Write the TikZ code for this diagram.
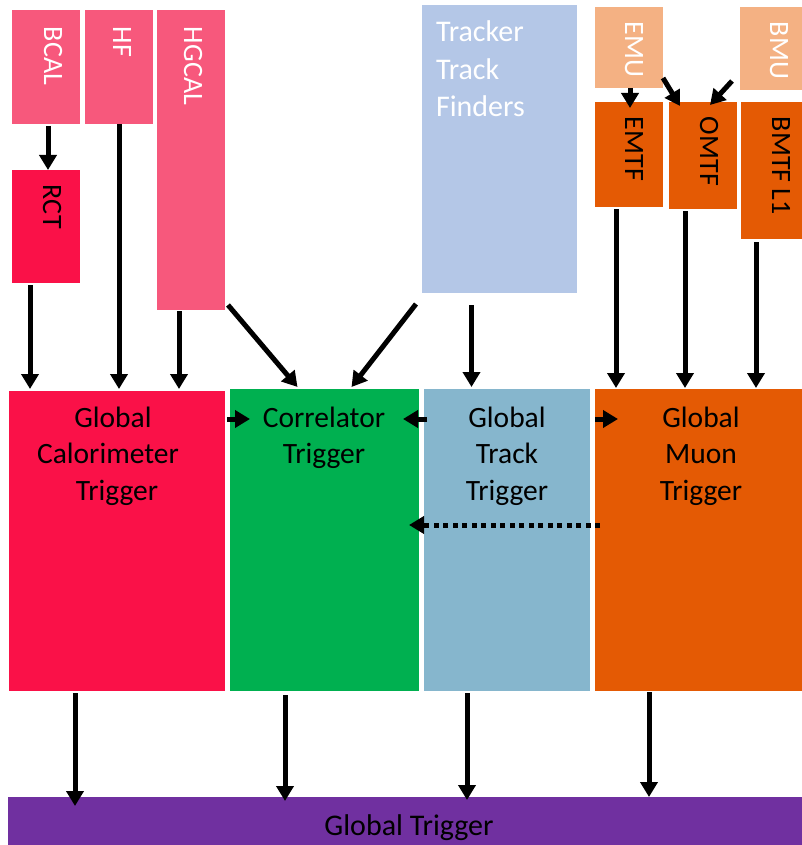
\documentclass[tikz,border=0pt]{standalone}
\usepackage{fontspec}
\setmainfont{Carlito}
\usetikzlibrary{arrows.meta}
\definecolor{calpink}{RGB}{247,88,124}
\definecolor{calred}{RGB}{250,17,72}
\definecolor{trkblue}{RGB}{180,199,231}
\definecolor{muonlight}{RGB}{244,177,131}
\definecolor{muondark}{RGB}{228,90,4}
\definecolor{corrgreen}{RGB}{0,176,80}
\definecolor{gttblue}{RGB}{134,182,205}
\definecolor{gtpurple}{RGB}{112,48,160}
\begin{document}
\begin{tikzpicture}[x=1pt,y=-1pt,
  box/.style={anchor=north west, inner sep=0pt, outer sep=0pt, draw=none},
  lbl/.style={font=\fontsize{29.5}{36.5}\selectfont, inner sep=0pt, outer sep=0pt},
  vlbl/.style={font=\fontsize{28}{34}\selectfont, inner sep=0pt, outer sep=0pt, rotate=-90, anchor=base west},
  arr/.style={line width=5pt, -{Triangle[length=15pt,width=17pt]}},
  dasharr/.style={line width=5pt, dash pattern=on 5pt off 4.5pt, -{Triangle[length=15pt,width=17pt]}},
]
\useasboundingbox (0,0) rectangle (802,845);

% calorimeter inputs
\node[box, fill=calpink, minimum width=68pt, minimum height=114pt] (bcal) at (12,10) {};
\node[box, fill=calpink, minimum width=68pt, minimum height=114pt] (hf) at (85,10) {};
\node[box, fill=calpink, minimum width=68pt, minimum height=300pt] (hgcal) at (157,10) {};
\node[box, fill=calred, minimum width=68pt, minimum height=113pt] (rct) at (12,170) {};
% tracker
\node[box, fill=trkblue, minimum width=155pt, minimum height=288pt] (ttf) at (422,5) {};
% muon inputs
\node[box, fill=muonlight, minimum width=68pt, minimum height=81pt] (emu) at (595,7) {};
\node[box, fill=muonlight, minimum width=62pt, minimum height=83pt] (bmu) at (740,7) {};
\node[box, fill=muondark, minimum width=68pt, minimum height=105pt] (emtf) at (595,102) {};
\node[box, fill=muondark, minimum width=68pt, minimum height=107pt] (omtf) at (669,102) {};
\node[box, fill=muondark, minimum width=61pt, minimum height=137pt] (bmtf) at (741,102) {};
% global trigger stage
\node[box, fill=calred, minimum width=216pt, minimum height=300pt] (gct) at (9,391) {};
\node[box, fill=corrgreen, minimum width=189pt, minimum height=302pt] (corr) at (230,389) {};
\node[box, fill=gttblue, minimum width=166pt, minimum height=302pt] (gtt) at (424,389) {};
\node[box, fill=muondark, minimum width=207pt, minimum height=302pt] (gmt) at (595,389) {};
\node[box, fill=gtpurple, minimum width=794pt, minimum height=48pt] (gt) at (8,797) {};

% vertical labels
\node[vlbl, text=white] (bcall) at (44,27) {BCAL};
\node[vlbl, text=white] (hfl) at (113,27) {HF};
\node[vlbl, text=white] (hgcall) at (184,27) {HGCAL};
\node[vlbl] (rctl) at (43,185) {RCT};
\node[vlbl, text=white] (emul) at (625,22) {EMU};
\node[vlbl, text=white] (bmul) at (770,22) {BMU};
\node[vlbl] (emtfl) at (625,117) {EMTF};
\node[vlbl] (omtfl) at (700,117) {OMTF};
\node[vlbl] (bmtfl) at (772,117) {BMTF L1};

% horizontal labels
\node[lbl, font=\fontsize{30}{37.5}\selectfont, text=white, anchor=north west, align=left] (ttfl) at (436,21) {Tracker\\Track\\Finders};
\node[lbl, anchor=north, align=center] (gctl) at (108,407)
  {\hspace*{10pt}Global\\Calorimeter\hspace*{16pt}\\\hspace*{18pt}Trigger};
\node[lbl, anchor=north, align=center] (corrl) at (324,407) {Correlator\\Trigger};
\node[lbl, anchor=north, align=center] (gttl) at (507,407) {Global\\Track\\Trigger};
\node[lbl, anchor=north, align=center] (gmtl) at (701,407) {Global\\Muon\\Trigger};
\node[lbl, font=\fontsize{30}{36}\selectfont, anchor=base] (gtl) at (409,835) {Global Trigger};

% calorimeter connections
\draw[arr, shorten <=2pt] ([xshift=2pt]bcal.south) -- ([xshift=2pt]rct.north);
\draw[arr, shorten <=2pt, shorten >=2pt] ([xshift=-16pt]rct.south) -- ([xshift=-16pt]rct.south |- gct.north);
\draw[arr, shorten >=2pt] (hf.south) -- (hf.south |- gct.north);
\draw[arr, shorten <=1pt, shorten >=2pt] ([xshift=-12pt]hgcal.south) -- ([xshift=-12pt]hgcal.south |- gct.north);
\draw[arr] ([xshift=3pt,yshift=5pt]hgcal.south east) -- ([xshift=-27pt,yshift=2pt]corr.north);

% tracker connections
\draw[arr] ([xshift=-6pt,yshift=-11pt]ttf.south west) -- ([xshift=27pt,yshift=2pt]corr.north);
\draw[arr, shorten <=12pt, shorten >=2pt] ([xshift=-28pt]ttf.south) -- ([xshift=-28pt]ttf.south |- gtt.north);

% muon connections
\draw[arr, shorten >=-6pt] ([xshift=1pt]emu.south) -- ([xshift=1pt]emtf.north);
\draw[arr] ([yshift=10pt]emu.south east) -- ([xshift=11pt,yshift=-4pt]omtf.north west);
\draw[arr] ([xshift=-8pt,yshift=9pt]bmu.south west) -- ([xshift=-27pt,yshift=-3pt]omtf.north east);
\draw[arr, shorten <=2pt, shorten >=1pt] ([xshift=-13pt]emtf.south) -- ([xshift=-13pt]emtf.south |- gmt.north);
\draw[arr, shorten <=2pt, shorten >=1pt] ([xshift=-18pt]omtf.south) -- ([xshift=-18pt]omtf.south |- gmt.north);
\draw[arr, shorten <=3pt, shorten >=1pt] ([xshift=-15.5pt]bmtf.south) -- ([xshift=-15.5pt]bmtf.south |- gmt.north);

% links between trigger blocks
\draw[arr] ([xshift=2pt,yshift=-28pt]gct.north east) -- ([xshift=20pt,yshift=-30pt]corr.north west);
\draw[arr] ([xshift=3pt,yshift=-30pt]gtt.north west) -- ([xshift=-16pt,yshift=-30pt]corr.north east);
\draw[arr] ([xshift=5pt,yshift=-30pt]gtt.north east) -- ([xshift=23pt,yshift=-30pt]gmt.north west);
\draw[dasharr] ([xshift=5pt,yshift=-136pt]gmt.north west) -- ([xshift=-10pt,yshift=-136pt]corr.north east);

% outputs to the global trigger
\draw[arr, shorten <=2pt, shorten >=-9pt] ([xshift=-42pt]gct.south) -- ([xshift=-42pt]gct.south |- gt.north);
\draw[arr, shorten <=4pt, shorten >=-4pt] ([xshift=-39.5pt]corr.south) -- ([xshift=-39.5pt]corr.south |- gt.north);
\draw[arr, shorten <=2pt, shorten >=-3pt] ([xshift=-40pt]gtt.south) -- ([xshift=-40pt]gtt.south |- gt.north);
\draw[arr, shorten <=1pt] ([xshift=-49.5pt]gmt.south) -- ([xshift=-49.5pt]gmt.south |- gt.north);
\end{tikzpicture}
\end{document}
